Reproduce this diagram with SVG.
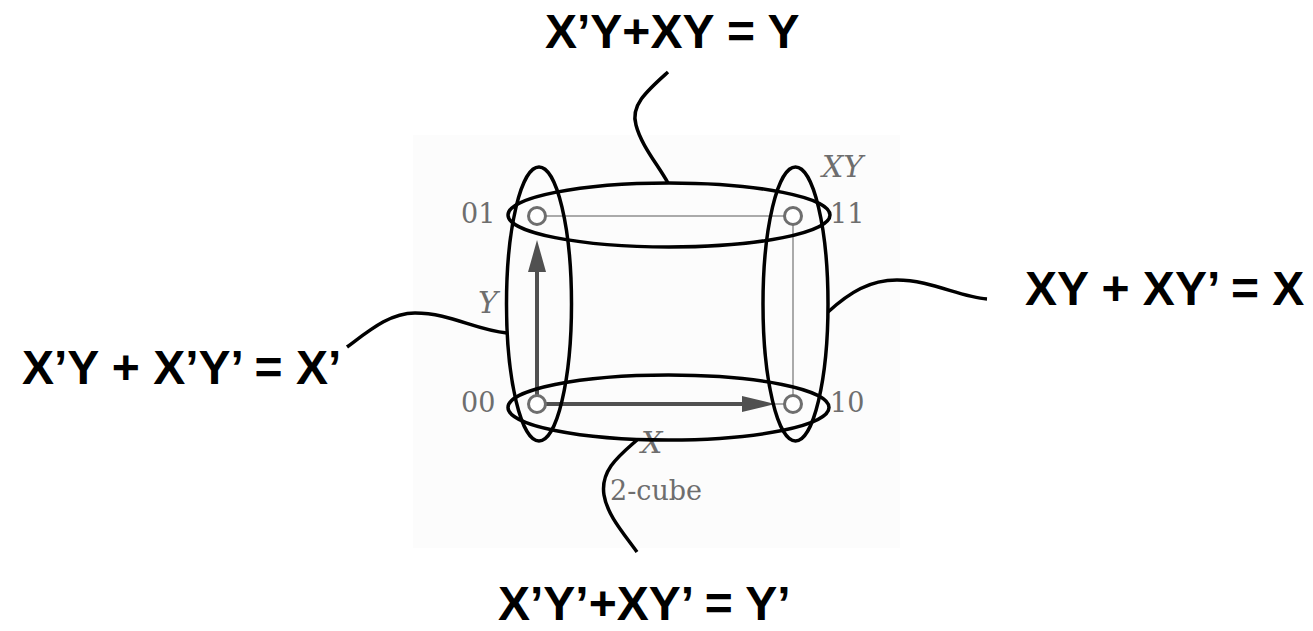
<svg xmlns="http://www.w3.org/2000/svg" width="1313" height="631" viewBox="0 0 1313 631">
<style>
.lbl{font-family:"Liberation Sans",Arial,sans-serif;font-weight:bold;font-size:48px;fill:#000}
.ser{font-family:"DejaVu Serif","Liberation Serif",serif;font-size:27px;fill:#6e6e6e}
.it{font-family:"DejaVu Serif","Liberation Serif",serif;font-style:italic;font-size:30px;fill:#6e6e6e}
.ell{fill:none;stroke:#000;stroke-width:3.5}
.con{fill:none;stroke:#000;stroke-width:3.5}
.vtx{fill:#fff;stroke:#6e6e6e;stroke-width:3}
.edge{stroke:#aaa;stroke-width:2;fill:none}
.arr{stroke:#505050;stroke-width:4;fill:none}
</style>
<rect x="0" y="0" width="1313" height="631" fill="#fff"/>
<g id="cube">
  <rect x="413" y="135" width="487" height="413" fill="#fcfcfc"/>
  <line class="edge" x1="546" y1="216" x2="784" y2="216"/>
  <line class="edge" x1="793" y1="225" x2="793" y2="395"/>
  <line class="edge" x1="770" y1="404" x2="784" y2="404"/>
  <line class="arr" x1="537" y1="395" x2="537" y2="268"/>
  <polygon points="537,240 528,272 546,272" fill="#505050"/>
  <line class="arr" x1="546" y1="404" x2="746" y2="404"/>
  <polygon points="775,404 742,396 742,412" fill="#505050"/>
  <text class="ser" x="461" y="223">01</text>
  <text class="ser" x="830" y="223">11</text>
  <text class="ser" x="461" y="412">00</text>
  <text class="ser" x="830" y="412">10</text>
  <text class="it" x="822" y="177">XY</text>
  <text class="it" x="478" y="313">Y</text>
  <text class="it" x="641" y="453">X</text>
  <text class="ser" x="610" y="500" font-size="29">2-cube</text>
</g>
<g id="v01"><circle class="vtx" cx="537" cy="216" r="8.5"/></g>
<g id="v11"><circle class="vtx" cx="793" cy="216" r="8.5"/></g>
<g id="v00"><circle class="vtx" cx="537" cy="404" r="8.5"/></g>
<g id="v10"><circle class="vtx" cx="793" cy="404" r="8.5"/></g>
<g id="group-top"><ellipse class="ell" cx="669" cy="215" rx="161" ry="32"/></g>
<g id="group-bottom"><ellipse class="ell" cx="668.5" cy="407.5" rx="160.5" ry="32.5"/></g>
<g id="group-left"><ellipse class="ell" cx="539" cy="304" rx="32.5" ry="137"/></g>
<g id="group-right"><ellipse class="ell" cx="795.5" cy="304" rx="32.5" ry="137"/></g>
<g id="connectors">
  <path class="con" d="M668,72 C648,90 630,105 636,125 C641,145 658,165 668,183"/>
  <path class="con" d="M347,347 C370,330 390,313 415,313 C450,313 475,330 507,333"/>
  <path class="con" d="M828,312 C850,292 870,280 897,280 C930,280 960,297 987,299"/>
  <path class="con" d="M637,440 C620,455 600,470 604,495 C607,515 625,535 637,552"/>
</g>
<g id="label-top"><text class="lbl" x="545" y="48">X’Y+XY = Y</text></g>
<g id="label-left"><text class="lbl" x="22" y="384">X’Y + X’Y’ = X’</text></g>
<g id="label-right"><text class="lbl" x="1025" y="305">XY + XY’ = X</text></g>
<g id="label-bottom"><text class="lbl" x="498" y="620">X’Y’+XY’ = Y’</text></g>
</svg>
